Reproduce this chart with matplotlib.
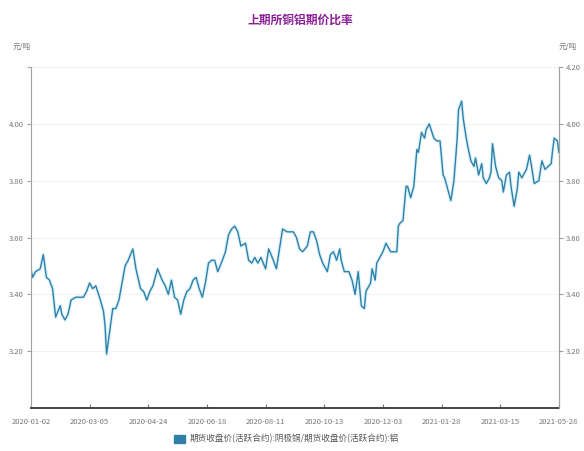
import matplotlib.pyplot as plt
import matplotlib.patches as mpatches

plt.rcParams['font.family'] = ['Noto Sans CJK SC', 'DejaVu Sans']

title = "上期所铜铝期价比率"
unit = "元/吨"
series_name = "期货收盘价(活跃合约):阴极铜/期货收盘价(活跃合约):铝"

# trading-day index (0 = 2020-01-02) and copper/aluminium price ratio
day_idx = [
    0, 1, 3, 6, 8, 10, 12, 14, 16, 19, 20, 22, 24, 26, 29, 32, 34, 36, 38, 40,
    42, 45, 47, 48, 49, 51, 53, 55, 57, 61, 63, 66, 68, 71, 73, 75, 77, 79, 82, 85,
    87, 89, 91, 93, 95, 97, 99, 101, 103, 105, 107, 109, 111, 113, 115, 117, 119, 121, 124, 126,
    128, 130, 132, 134, 136, 139, 141, 143, 145, 147, 149, 152, 154, 157, 159, 161, 163, 166, 168, 170,
    172, 174, 176, 179, 181, 183, 185, 187, 189, 192, 194, 196, 198, 200, 201, 203, 206, 208, 210, 212,
    214, 216, 217, 220, 221, 223, 224, 226, 228, 230, 233, 235, 237, 238, 239, 241, 243, 244, 246, 248,
    250, 251, 253, 255, 256, 258, 261, 263, 265, 267, 268, 270, 272, 274, 276, 277, 279, 280, 282, 283,
    285, 287, 288, 290, 292, 293, 295, 297, 298, 299, 301, 303, 305, 306, 308, 310, 311, 313, 315, 316,
    318, 321, 323, 324, 326, 329, 331, 333, 335, 337, 338, 339, 341, 342,
]
ratio = [
    3.49, 3.46, 3.48, 3.49, 3.54, 3.46, 3.45, 3.42, 3.32, 3.36, 3.33, 3.31, 3.33, 3.38, 3.39, 3.39, 3.39, 3.41, 3.44, 3.42,
    3.43, 3.38, 3.34, 3.29, 3.19, 3.27, 3.35, 3.35, 3.38, 3.50, 3.52, 3.56, 3.49, 3.42, 3.41, 3.38, 3.41, 3.43, 3.49, 3.45,
    3.43, 3.40, 3.45, 3.39, 3.38, 3.33, 3.38, 3.41, 3.42, 3.45, 3.46, 3.42, 3.39, 3.44, 3.51, 3.52, 3.52, 3.48, 3.52, 3.55,
    3.61, 3.63, 3.64, 3.62, 3.57, 3.58, 3.52, 3.51, 3.53, 3.51, 3.53, 3.49, 3.56, 3.52, 3.49, 3.56, 3.63, 3.62, 3.62, 3.62,
    3.60, 3.56, 3.55, 3.57, 3.62, 3.62, 3.59, 3.54, 3.51, 3.48, 3.54, 3.55, 3.52, 3.56, 3.52, 3.48, 3.48, 3.45, 3.40, 3.48,
    3.36, 3.35, 3.41, 3.44, 3.49, 3.45, 3.51, 3.53, 3.55, 3.58, 3.55, 3.55, 3.55, 3.64, 3.65, 3.66, 3.78, 3.78, 3.74, 3.78,
    3.91, 3.90, 3.97, 3.95, 3.98, 4.00, 3.95, 3.94, 3.94, 3.82, 3.81, 3.77, 3.73, 3.80, 3.94, 4.05, 4.08, 4.02, 3.95, 3.92,
    3.87, 3.85, 3.88, 3.82, 3.86, 3.81, 3.79, 3.81, 3.83, 3.93, 3.85, 3.81, 3.80, 3.76, 3.82, 3.83, 3.78, 3.71, 3.77, 3.83,
    3.81, 3.84, 3.89, 3.86, 3.79, 3.80, 3.87, 3.84, 3.85, 3.86, 3.91, 3.95, 3.94, 3.90,
]

tick_pos = [0, 38, 76, 114, 152, 190, 228, 266, 304, 342]
tick_labels = ["2020-01-02", "2020-03-05", "2020-04-24", "2020-06-18", "2020-08-11",
               "2020-10-13", "2020-12-03", "2021-01-28", "2021-03-15", "2021-05-28"]
y_ticks = [3.20, 3.40, 3.60, 3.80, 4.00, 4.20]

fig = plt.figure(figsize=(5.84, 4.51), dpi=100)
ax = fig.add_axes([0.053, 0.0953, 0.904, 0.756])

line_color = "#2f7fa9"
ax.plot(day_idx, ratio, color="#b5e6f5", lw=2.6, alpha=0.5, solid_joinstyle="round")
ax.plot(day_idx, ratio, color=line_color, lw=1.0, solid_joinstyle="round")

ax.set_xlim(0, 342)
ax.set_ylim(3.0, 4.2)
ax.set_xticks(tick_pos)
ax.set_xticklabels(tick_labels)
ax.set_yticks(y_ticks)
ax.set_yticklabels(["3.20", "3.40", "3.60", "3.80", "4.00", ""])
ax.grid(axis="y", color="#efefef", lw=0.6)
ax.set_axisbelow(True)

ax.spines["top"].set_visible(False)
ax.spines["left"].set_color("#a0a0a0")
ax.spines["left"].set_linewidth(0.8)
ax.spines["right"].set_color("#a0a0a0")
ax.spines["right"].set_linewidth(0.8)
ax.spines["bottom"].set_color("#444444")
ax.spines["bottom"].set_linewidth(1.4)

ax.tick_params(axis="x", direction="in", length=3, color="#777777", labelsize=5.5,
               labelcolor="#777777", pad=7)
ax.tick_params(axis="y", direction="out", length=3, color="#a0a0a0", labelsize=5.5,
               labelcolor="#777777", pad=2)

ax2 = ax.twinx()
ax2.set_ylim(3.0, 4.2)
ax2.set_yticks(y_ticks)
ax2.set_yticklabels(["3.20", "3.40", "3.60", "3.80", "4.00", "4.20"])
for s in ["top", "left", "bottom"]:
    ax2.spines[s].set_visible(False)
ax2.spines["right"].set_color("#a0a0a0")
ax2.spines["right"].set_linewidth(0.8)
ax2.tick_params(axis="y", direction="out", length=3, color="#a0a0a0", labelsize=5.5,
                labelcolor="#777777", pad=2)

fig.text(22 / 584, 1 - 47 / 451, unit, fontsize=5.5, color="#777777", ha="center", va="center")
fig.text(568 / 584, 1 - 47 / 451, unit, fontsize=5.5, color="#777777", ha="center", va="center")

fig.text(0.514, 1 - 20 / 451, title, fontsize=8.5, fontweight="bold", color="#8a1f96",
         ha="center", va="center")

handle = mpatches.Patch(color=line_color, label=series_name)
fig.legend(handles=[handle], loc="center", bbox_to_anchor=(0.49, 1 - 439 / 451), frameon=False,
           fontsize=6.2, handlelength=1.3, handleheight=1.0, handletextpad=0.5,
           labelcolor="#555555")

fig.savefig("out.png", dpi=100)
